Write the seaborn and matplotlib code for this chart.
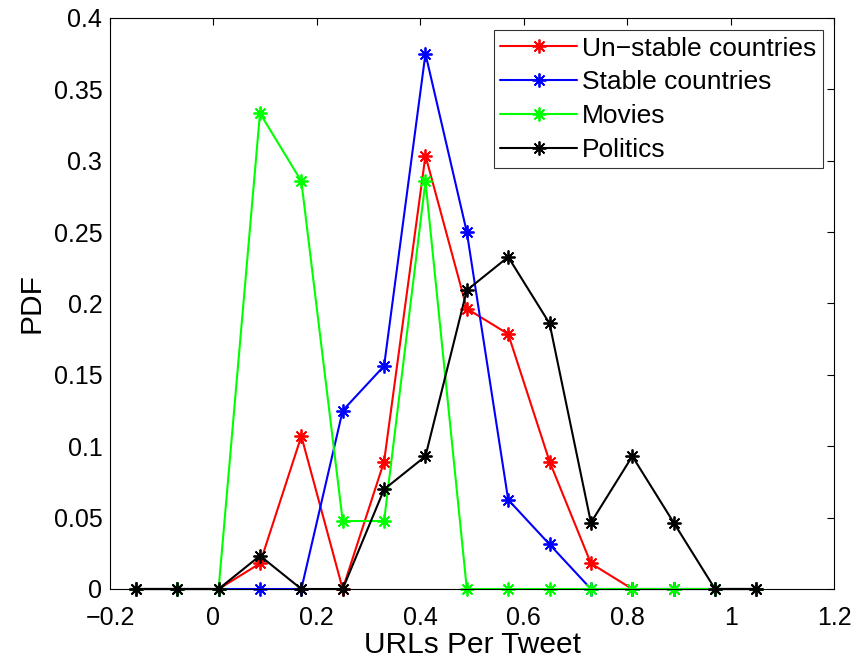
import numpy as np
import pandas as pd
import matplotlib
matplotlib.use("Agg")
import matplotlib.pyplot as plt
import seaborn as sns

# ---- data ----
x_vals = [-0.15, -0.07, 0.01, 0.09, 0.17, 0.25, 0.33, 0.41, 0.49, 0.57, 0.65, 0.73, 0.81, 0.89, 0.97, 1.05]
unstable = [0, 0, 0, 0.0179, 0.1071, 0, 0.0893, 0.3036, 0.1964, 0.1786, 0.0893, 0.0179, 0, 0, 0, 0]
stable = [0, 0, 0, 0, 0, 0.125, 0.15625, 0.375, 0.25, 0.0625, 0.03125, 0, 0, 0, 0, 0]
movies = [0, 0, 0, 0.3333, 0.2857, 0.0476, 0.0476, 0.2857, 0, 0, 0, 0, 0, 0, 0, 0]
politics = [0, 0, 0, 0.0233, 0, 0, 0.0698, 0.0930, 0.2093, 0.2326, 0.1860, 0.0465, 0.0930, 0.0465, 0, 0]
series_names = ["Un\u2212stable countries", "Stable countries", "Movies", "Politics"]
series_colors = ["#ff0000", "#0000ff", "#00ff00", "#000000"]
xtick_vals = [-0.2, 0, 0.2, 0.4, 0.6, 0.8, 1.0, 1.2]
xtick_labels = ["\u22120.2", "0", "0.2", "0.4", "0.6", "0.8", "1", "1.2"]
ytick_vals = [0, 0.05, 0.1, 0.15, 0.2, 0.25, 0.3, 0.35, 0.4]
ytick_labels = ["0", "0.05", "0.1", "0.15", "0.2", "0.25", "0.3", "0.35", "0.4"]

sns.set_style("white")
plt.rcParams['font.family'] = ['Liberation Sans', 'DejaVu Sans']
plt.rcParams['text.color'] = 'black'
plt.rcParams['axes.labelcolor'] = 'black'
plt.rcParams['xtick.color'] = 'black'
plt.rcParams['ytick.color'] = 'black'

fig = plt.figure(figsize=(8.57, 6.63), dpi=100)
ax = fig.add_axes([110/857, 74/663, 724/857, 571/663])

all_series = [unstable, stable, movies, politics]
for name, vals, col in zip(series_names, all_series, series_colors):
    df = pd.DataFrame({"x": x_vals, "y": vals})
    sns.lineplot(data=df, x="x", y="y", ax=ax, color=col, linewidth=1.5,
                 marker=(8, 2, 0), markersize=10, markeredgewidth=1.3,
                 markeredgecolor=col, markerfacecolor=col, label=name,
                 clip_on=False)

ax.set_xlim(-0.2, 1.2)
ax.set_ylim(0, 0.4)
ax.set_xticks(xtick_vals)
ax.set_xticklabels(xtick_labels)
ax.set_yticks(ytick_vals)
ax.set_yticklabels(ytick_labels)
ax.tick_params(direction='in', length=5, width=0.8, top=True, right=True,
               labelsize=18, labelcolor='black', colors='black')
ax.tick_params(axis='y', pad=5.5)
ax.tick_params(axis='x', pad=12)
for s in ax.spines.values():
    s.set_visible(True)
    s.set_color('black')
    s.set_linewidth(0.8)
ax.set_xlabel("URLs Per Tweet", fontsize=21.5, labelpad=1)
ax.set_ylabel("PDF", fontsize=21.5, labelpad=6)

leg = ax.legend(loc='upper right', bbox_to_anchor=(0.985, 0.979), borderaxespad=0,
                fontsize=19, frameon=True, fancybox=False, handlelength=2.9,
                handletextpad=0.2, labelspacing=0.37, borderpad=0.25)
leg.get_frame().set_edgecolor('black')
leg.get_frame().set_linewidth(0.8)
for t in leg.get_texts():
    t.set_color('black')

fig.savefig("out.png", dpi=100)
